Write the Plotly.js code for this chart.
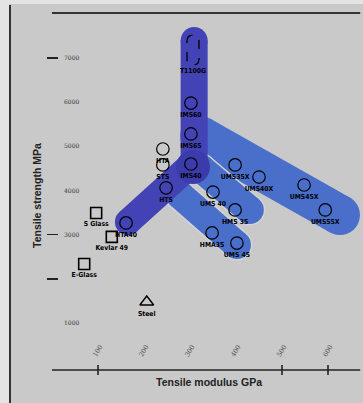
<!DOCTYPE html>
<html>
<head>
<meta charset="utf-8">
<script src="https://cdn.plot.ly/plotly-3.0.1.min.js"></script>
<style>html,body{margin:0;padding:0;background:#c9c9c9;}#chart{width:363px;height:403px;}</style>
</head>
<body>
<div id="chart"></div>
<script>
// ---------- data ----------
// carbon fibres: tensile modulus (GPa) and tensile strength (MPa)
const fiberNames    = ['IMS60','IMS65','IMS40','HTA','STS','HTS','HTA40','UMS35X','UMS40X','UMS45X','UMS55X','UMS 40','HMS 35','HMA35','UMS 45'];
const fiberModulus  = [302, 302, 302, 241, 241, 248, 161, 398, 450, 548, 594, 350, 398, 348, 402];
const fiberStrength = [5980, 5280, 4600, 4940, 4580, 4060, 3265, 4580, 4305, 4125, 3560, 3965, 3560, 3040, 2810];

// developmental fibre (dashed outline)
const devName = ['T1100G'];
const devModulus = [306.5];
const devStrength = [7180];

// reference materials
const refNames    = ['S Glass','Kevlar 49','E-Glass'];
const refModulus  = [96, 130, 70];
const refStrength = [3490, 2950, 2335];
const steelName = ['Steel'];
const steelModulus = [206];
const steelStrength = [1475];

// property bands (start / end, modulus GPa & strength MPa)
const bandStartModulus  = [322, 322, 278, 165, 309];
const bandStartStrength = [5234, 4509, 3898, 3287, 7396];
const bandEndModulus    = [626, 430, 402, 309, 309];
const bandEndStrength   = [3445, 3559, 2766, 4645, 4645];
const junctionModulus = [306.5];
const junctionStrength = [4532];

// axes
const yDashTicks = [7000, 3000, 2000];
const yLabelVals = [7000, 6000, 5000, 4000, 3000, 1000];
const yLabelText = ['7000', '6000', '5000', '4000', '3000', '1000'];
const xTickMarks = [100, 500, 600];
const xLabelVals = [100, 200, 300, 400, 500, 600];
const xLabelText = ['100', '200', '300', '400', '500', '600'];
const axisBase = -64, axisTop = 8020, axisStart = 0, axisEnd = 670;

// ---------- styles ----------
const BG = '#c9c9c9';
const LIGHT = '#4a6fca', DARK = '#4343b6', BLOB = '#3b3bab';
const bandStyle = [
  {w: 40, c: LIGHT, outline: false},
  {w: 28, c: LIGHT, outline: true},
  {w: 28, c: LIGHT, outline: true},
  {w: 26, c: DARK, outline: false},
  {w: 27, c: DARK, outline: false}
];
const xRange = [-113.04, 676.09];
const yRange = [-811.3, 8313.2];
const labFont = {family: 'DejaVu Sans Condensed, DejaVu Sans, sans-serif', size: 6.8, color: '#000', weight: 'bold'};

const traces = [];
function bandTrace(i, width, color) {
  return {
    type: 'scatter', mode: 'lines+markers', hoverinfo: 'skip', showlegend: false,
    x: [bandStartModulus[i], bandEndModulus[i]],
    y: [bandStartStrength[i], bandEndStrength[i]],
    line: {color: color, width: width},
    marker: {color: color, size: width, line: {width: 0}}
  };
}
for (let i = 0; i < bandStartModulus.length; i++) {
  const s = bandStyle[i];
  if (s.outline) traces.push(bandTrace(i, s.w + 3, '#d4d4d4'));
  traces.push(bandTrace(i, s.w, s.c));
}
traces.push({type: 'scatter', mode: 'markers', hoverinfo: 'skip', showlegend: false,
  x: junctionModulus, y: junctionStrength, marker: {color: BLOB, size: 34, line: {width: 0}}});

traces.push({type: 'scatter', mode: 'markers+text', showlegend: false,
  x: fiberModulus, y: fiberStrength, text: fiberNames, textposition: 'bottom center',
  textfont: labFont,
  marker: {symbol: 'circle-open', size: 12.5, color: '#000', line: {width: 1.2, color: '#000'}}});
traces.push({type: 'scatter', mode: 'markers+text', showlegend: false,
  x: refModulus, y: refStrength, text: refNames, textposition: 'bottom center',
  textfont: labFont,
  marker: {symbol: 'square-open', size: 11, color: '#000', line: {width: 1.6, color: '#000'}}});
traces.push({type: 'scatter', mode: 'markers+text', showlegend: false,
  x: steelModulus, y: steelStrength, text: steelName, textposition: 'bottom center',
  textfont: labFont,
  marker: {symbol: 'triangle-up-open', size: 12, color: '#000', line: {width: 1.4, color: '#000'}}});

// capsule for developmental fibre
const hw = 13, hh = 340, ry = 136;
const shapes = [];
devModulus.forEach((cx, i) => {
  const cy = devStrength[i];
  const L = cx - hw, R = cx + hw, T = cy + hh, B = cy - hh;
  const path = `M ${L},${T - ry} Q ${L},${T} ${cx},${T} Q ${R},${T} ${R},${T - ry} L ${R},${B + ry} Q ${R},${B} ${cx},${B} Q ${L},${B} ${L},${B + ry} Z`;
  shapes.push({type: 'path', xref: 'x', yref: 'y', path: path, line: {color: '#000', width: 1.3, dash: 'dash'}});
  traces.push({type: 'scatter', mode: 'text', showlegend: false, x: [cx], y: [B - 60], text: [devName[i]],
    textposition: 'bottom center', textfont: labFont});
});

// dummy trace to carry the label axis
traces.push({type: 'scatter', x: [], y: [], yaxis: 'y2', showlegend: false});

// frame lines
shapes.push({type: 'rect', xref: 'paper', yref: 'paper', x0: 0, x1: 9 / 363, y0: 0, y1: 1, fillcolor: '#e4e4e4', line: {width: 0}, layer: 'below'});
shapes.push({type: 'rect', xref: 'paper', yref: 'paper', x0: 0, x1: 1, y0: 1 - 4 / 403, y1: 1, fillcolor: '#e4e4e4', line: {width: 0}, layer: 'below'});
shapes.push({type: 'line', xref: 'paper', yref: 'paper', x0: 10 / 363, x1: 10 / 363, y0: 0, y1: 1 - 5 / 403, line: {color: '#333', width: 2}});
shapes.push({type: 'line', xref: 'x', yref: 'y', x0: axisStart, x1: axisEnd, y0: axisTop, y1: axisTop, line: {color: '#333', width: 2}});
shapes.push({type: 'line', xref: 'x', yref: 'y', x0: axisStart, x1: axisEnd, y0: axisBase, y1: axisBase, line: {color: '#222', width: 1.6}});
xTickMarks.forEach(v => shapes.push({type: 'line', xref: 'x', yref: 'y', x0: v, x1: v, y0: axisBase - 113, y1: axisBase + 113, line: {color: '#222', width: 1.6}}));

const annotations = xLabelVals.map((v, i) => ({
  x: v, y: 360, xref: 'x', yref: 'y', text: xLabelText[i], showarrow: false, textangle: -60,
  font: {family: 'DejaVu Serif, serif', size: 6.5, color: '#555'}
}));
annotations.push({xref: 'paper', yref: 'paper', x: 209 / 363, y: 1 - 390 / 403, text: 'Tensile modulus GPa', showarrow: false,
  font: {family: 'Liberation Sans, Arial, sans-serif', size: 10.5, color: '#222', weight: 'bold'}});
annotations.push({xref: 'paper', yref: 'paper', x: 29 / 363, y: 1 - 196 / 403, text: 'Tensile strength MPa', showarrow: false, textangle: -90,
  font: {family: 'Liberation Sans, Arial, sans-serif', size: 10.5, color: '#222', weight: 'bold'}});

const layout = {
  width: 363, height: 403,
  margin: {l: 0, r: 0, t: 0, b: 0, pad: 0},
  paper_bgcolor: BG, plot_bgcolor: BG,
  showlegend: false,
  xaxis: {range: xRange, visible: false, fixedrange: true},
  yaxis: {range: yRange, anchor: 'free', position: 58 / 363, side: 'left', showgrid: false, zeroline: false, showline: false,
    ticks: 'outside', ticklen: 11, tickwidth: 1.6, tickcolor: '#222', tickmode: 'array', tickvals: yDashTicks, showticklabels: false, fixedrange: true},
  yaxis2: {range: yRange, overlaying: 'y', anchor: 'free', position: 60 / 363, side: 'left', showgrid: false, zeroline: false, showline: false,
    ticks: '', tickmode: 'array', tickvals: yLabelVals, ticktext: yLabelText, ticklabelposition: 'inside',
    tickfont: {family: 'DejaVu Serif, serif', size: 6, color: '#333'}, fixedrange: true},
  shapes: shapes,
  annotations: annotations
};
Plotly.newPlot('chart', traces, layout, {displayModeBar: false, staticPlot: true});
</script>
</body>
</html>
